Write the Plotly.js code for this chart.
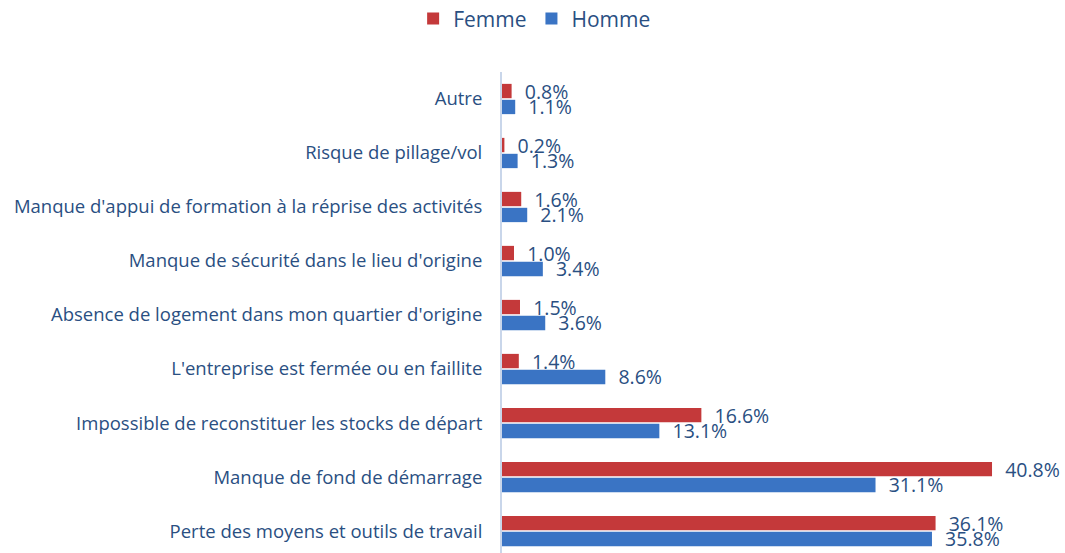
<!DOCTYPE html>
<html>
<head>
<meta charset="utf-8">
<script src="https://cdn.plot.ly/plotly-3.0.1.min.js"></script>
<style>html,body{margin:0;padding:0;background:#fff;}#chart{width:1065px;height:553px;}</style>
</head>
<body>
<div id="chart"></div>
<script>
// Categories from top to bottom as shown in the chart
const categories = [
  "Autre",
  "Risque de pillage/vol",
  "Manque d'appui de formation à la réprise des activités",
  "Manque de sécurité dans le lieu d'origine",
  "Absence de logement dans mon quartier d'origine",
  "L'entreprise est fermée ou en faillite",
  "Impossible de reconstituer les stocks de départ",
  "Manque de fond de démarrage",
  "Perte des moyens et outils de travail"
];
const femme = [0.8, 0.2, 1.6, 1.0, 1.5, 1.4, 16.6, 40.8, 36.1];
const homme = [1.1, 1.3, 2.1, 3.4, 3.6, 8.6, 13.1, 31.1, 35.8];
const seriesNames = ["Femme", "Homme"];

const txtColor = "#2a4f82";
const fmt = v => "\u00a0\u00a0" + v.toFixed(1) + "%";

const common = {
  type: "bar",
  orientation: "h",
  y: categories,
  textposition: "outside",
  cliponaxis: false,
  constraintext: "none",
  textfont: {family: "Open Sans, sans-serif", size: 19.5, color: txtColor},
  hoverinfo: "x+y+name"
};

const data = [
  Object.assign({}, common, {
    name: seriesNames[1],
    x: homme,
    text: homme.map(fmt),
    marker: {color: "#3a74c4"},
    legendrank: 2
  }),
  Object.assign({}, common, {
    name: seriesNames[0],
    x: femme,
    text: femme.map(fmt),
    marker: {color: "#c4393a"},
    legendrank: 1
  })
];

const layout = {
  width: 1065,
  height: 553,
  margin: {l: 502, r: 5, t: 72, b: 0, pad: 0},
  paper_bgcolor: "#ffffff",
  plot_bgcolor: "#ffffff",
  barmode: "group",
  bargap: 0.41,
  bargroupgap: 0.1,
  font: {family: "Open Sans, sans-serif", color: txtColor},
  showlegend: true,
  legend: {
    orientation: "h",
    xref: "container", yref: "container",
    x: 0.502, xanchor: "center",
    y: 0.966, yanchor: "middle",
    font: {size: 21, color: txtColor},
    itemclick: false
  },
  xaxis: {
    range: [0, 46.46],
    showgrid: false,
    zeroline: false,
    showticklabels: false,
    showline: false,
    ticks: ""
  },
  yaxis: {
    type: "category",
    categoryorder: "array",
    categoryarray: categories.slice().reverse(),
    range: [-0.407, 8.5],
    showgrid: false,
    zeroline: false,
    showline: true,
    linecolor: "#c9d6ea",
    linewidth: 2,
    ticks: "",
    ticklabelstandoff: 14,
    tickfont: {family: "Open Sans, sans-serif", size: 18.5, color: txtColor}
  }
};

Plotly.newPlot("chart", data, layout, {displayModeBar: false, staticPlot: true});
</script>
</body>
</html>
